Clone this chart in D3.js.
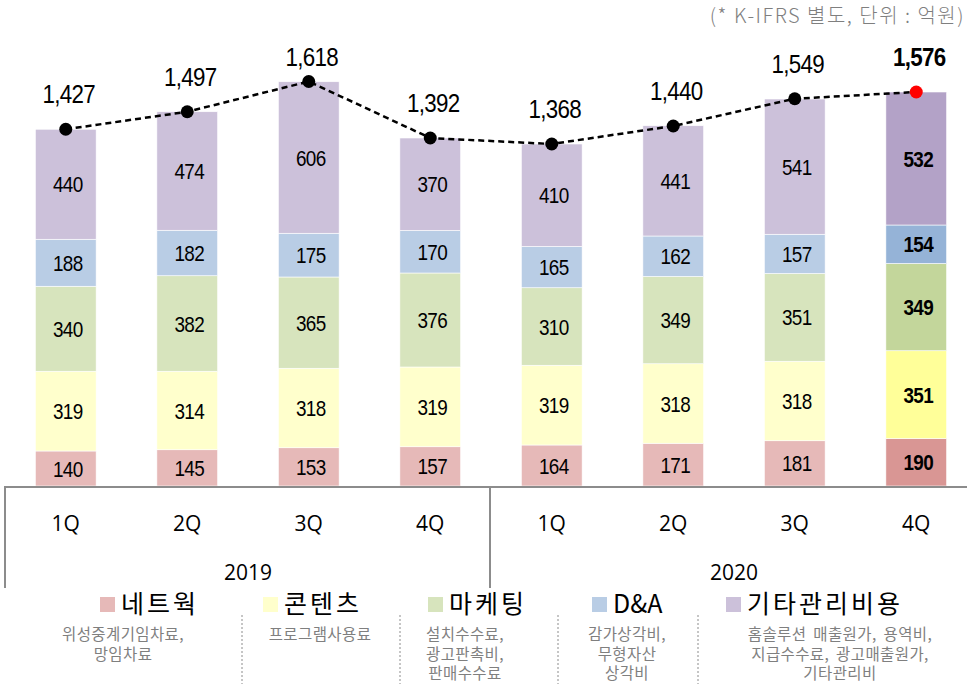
<!DOCTYPE html>
<html>
<head>
<meta charset="utf-8">
<script src="https://cdn.jsdelivr.net/npm/d3@7"></script>
<style>
  body { margin: 0; background: #fff; }
  svg { display: block; }
</style>
</head>
<body>
<script>
// data (억원)
let quarters = ['1Q', '2Q', '3Q', '4Q', '1Q', '2Q', '3Q', '4Q'];
let years = ['2019', '2020'];
let network = [140, 145, 153, 157, 164, 171, 181, 190];
let contents = [319, 314, 318, 319, 319, 318, 318, 351];
let marketing = [340, 382, 365, 376, 310, 349, 351, 349];
let da = [188, 182, 175, 170, 165, 162, 157, 154];
let other = [440, 474, 606, 370, 410, 441, 541, 532];
let totals = [1427, 1497, 1618, 1392, 1368, 1440, 1549, 1576];

let seriesNames = ['네트웍', '콘텐츠', '마케팅', 'D&A', '기타관리비용'];
let descriptions = [
    ['위성중계기임차료,', '망임차료'],
    ['프로그램사용료'],
    ['설치수수료,', '광고판촉비,', '판매수수료'],
    ['감가상각비,', '무형자산', '상각비'],
    ['홈솔루션 매출원가, 용역비,', '지급수수료, 광고매출원가,', '기타관리비']
];

let colors = ['#E6B9B8', '#FFFFCC', '#D7E4BD', '#B9CDE5', '#CCC1DA'];
let hiColors = ['#D99694', '#FFFF99', '#C3D69B', '#95B3D7', '#B3A2C7'];

let width = 967, height = 684;
let baseY = 486;
let numFont = '"Liberation Sans", Arial, sans-serif';
let korFont = '"Noto Sans CJK KR", "Noto Sans", sans-serif';

let svg = d3.select('body').append('svg')
    .attr('width', width)
    .attr('height', height);

let idx = d3.range(quarters.length);
let x = d3.scaleBand().domain(idx).range([5, 977]).paddingInner(0.5).paddingOuter(0.25);
let y = d3.scaleLinear().domain([0, 1600]).range([baseY, 86]);

let table = idx.map(i => ({
    i,
    s0: network[i], s1: contents[i], s2: marketing[i], s3: da[i], s4: other[i]
}));
let stack = d3.stack().keys(['s0', 's1', 's2', 's3', 's4'])(table);

let last = quarters.length - 1;

// bars
let layers = svg.append('g').selectAll('g').data(stack).enter().append('g');
layers.selectAll('rect').data((d, k) => d.map(p => ({p, k}))).enter().append('rect')
    .attr('x', d => x(d.p.data.i))
    .attr('y', d => y(d.p[1]))
    .attr('width', x.bandwidth())
    .attr('height', d => y(d.p[0]) - y(d.p[1]))
    .attr('fill', d => d.p.data.i === last ? hiColors[d.k] : colors[d.k])
    .attr('stroke', '#fff')
    .attr('stroke-width', 0.6);

// segment labels
layers.selectAll('text').data((d, k) => d.map(p => ({p, k}))).enter().append('text')
    .attr('transform', d => `translate(${x(d.p.data.i) + x.bandwidth() / 2 + 2},${(y(d.p[0]) + y(d.p[1])) / 2 + 8}) scale(0.86,1)`)
    .attr('text-anchor', 'middle')
    .style('font-family', numFont)
    .style('font-size', '22px')
    .style('letter-spacing', '-0.8px')
    .style('font-weight', d => d.p.data.i === last ? 'bold' : 'normal')
    .attr('fill', '#000')
    .text(d => d.p[1] - d.p[0]);

// axis box
let axisG = svg.append('g').attr('stroke', '#8c8c8c').attr('stroke-width', 2);
axisG.append('line').attr('x1', 5).attr('x2', width).attr('y1', baseY + 1).attr('y2', baseY + 1);
axisG.append('line').attr('x1', 5).attr('x2', 5).attr('y1', baseY).attr('y2', 588);
axisG.append('line').attr('x1', 490).attr('x2', 490).attr('y1', baseY).attr('y2', 588);

svg.append('g').selectAll('text').data(idx).enter().append('text')
    .attr('x', i => x(i) + x.bandwidth() / 2)
    .attr('y', 531)
    .attr('text-anchor', 'middle')
    .style('font-family', '"Open Sans", sans-serif')
    .style('font-size', '21px')
    .attr('fill', '#000')
    .text(i => quarters[i]);

svg.append('g').selectAll('text').data(years).enter().append('text')
    .attr('x', (d, k) => (x(k * 4 + 1) + x(k * 4 + 2) + x.bandwidth()) / 2)
    .attr('y', 580)
    .attr('text-anchor', 'middle')
    .style('font-family', '"Open Sans", sans-serif')
    .style('font-size', '21px')
    .attr('fill', '#000')
    .text(d => d);

// total line
let line = d3.line()
    .x((d, i) => x(i) + x.bandwidth() / 2)
    .y(d => y(d));
svg.append('path').datum(totals)
    .attr('d', line)
    .attr('fill', 'none')
    .attr('stroke', '#000')
    .attr('stroke-width', 2.5)
    .attr('stroke-dasharray', '6,4');

svg.append('g').selectAll('circle').data(totals).enter().append('circle')
    .attr('cx', (d, i) => x(i) + x.bandwidth() / 2)
    .attr('cy', d => y(d))
    .attr('r', 6.5)
    .attr('fill', (d, i) => i === last ? '#FF0000' : '#000');

svg.append('g').selectAll('text').data(totals).enter().append('text')
    .attr('transform', (d, i) => `translate(${x(i) + x.bandwidth() / 2 + 3},${Math.max(y(d) - 26, 66)}) scale(0.86,1)`)
    .attr('text-anchor', 'middle')
    .style('font-family', numFont)
    .style('font-size', '26px')
    .style('letter-spacing', '-0.8px')
    .style('font-weight', (d, i) => i === last ? 'bold' : 'normal')
    .attr('fill', '#000')
    .text(d => d3.format(',')(d));

// unit note
svg.append('text')
    .attr('x', 965)
    .attr('y', 23)
    .attr('text-anchor', 'end')
    .style('font-family', korFont)
    .style('font-size', '20px')
    .style('font-weight', 300)
    .style('letter-spacing', '1.5px')
    .attr('fill', '#7f7f7f')
    .text('(* K-IFRS 별도, 단위 : 억원)');

// legend
let legendX = [100, 263, 428, 592, 726];
let descX = [123, 320, 465, 627, 840];
let sepX = [242, 400, 558, 698];
let legendSpacing = [3, 3, 3, 0, 3];

let legend = svg.append('g').selectAll('g').data(seriesNames).enter().append('g');
legend.append('rect')
    .attr('x', (d, k) => legendX[k])
    .attr('y', 597)
    .attr('width', 15)
    .attr('height', 15)
    .attr('fill', (d, k) => colors[k]);
legend.append('text')
    .attr('x', (d, k) => legendX[k] + 21)
    .attr('y', 613)
    .style('font-family', korFont)
    .style('font-size', '25px')
    .style('letter-spacing', (d, k) => legendSpacing[k] + 'px')
    .attr('fill', '#000')
    .text(d => d);

legend.each(function(d, k) {
    d3.select(this).selectAll('.desc').data(descriptions[k]).enter().append('text')
        .attr('class', 'desc')
        .attr('x', descX[k])
        .attr('y', (t, j) => 640 + j * 19.5)
        .attr('text-anchor', 'middle')
        .style('font-family', korFont)
        .style('font-size', '15.5px')
        .style('letter-spacing', '0.4px')
        .style('word-spacing', '3px')
        .attr('fill', '#7f7f7f')
        .text(t => t);
});

svg.append('g').selectAll('line').data(sepX).enter().append('line')
    .attr('x1', d => d).attr('x2', d => d)
    .attr('y1', 615).attr('y2', height)
    .attr('stroke', '#8c8c8c')
    .attr('stroke-width', 1)
    .attr('stroke-dasharray', '2,2');
</script>
</body>
</html>
